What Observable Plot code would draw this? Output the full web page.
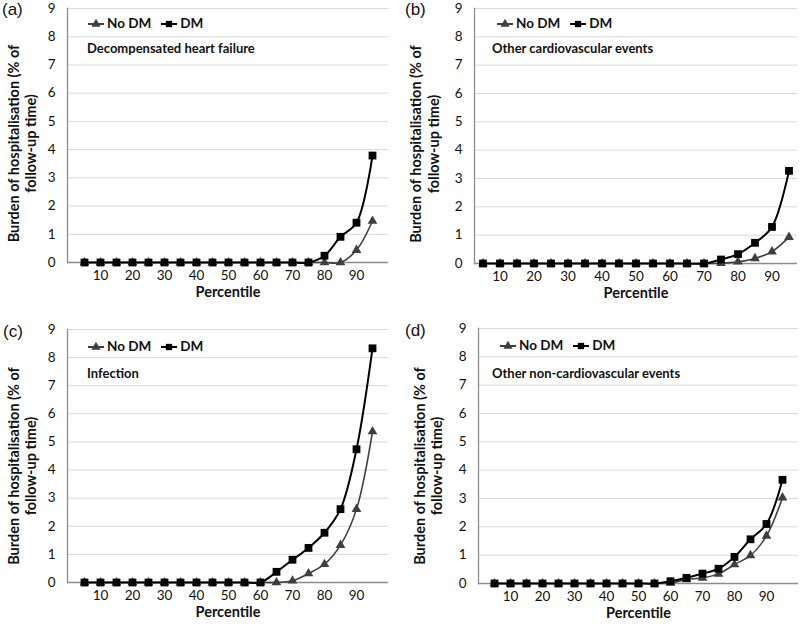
<!DOCTYPE html>
<html><head><meta charset="utf-8">
<script src="https://cdn.jsdelivr.net/npm/d3@7"></script>
<script src="https://cdn.jsdelivr.net/npm/@observablehq/plot@0.6"></script>
<style>
body{margin:0;background:#fff;font-family:Lato,sans-serif;color:#111}
#wrap{position:relative;width:800px;height:624px;overflow:hidden}
.panel{position:absolute;width:400px;height:312px}
.panel svg.plot{position:absolute;left:0;top:0}
.lab{position:absolute;font-size:17px;line-height:1;color:#111;font-family:"Liberation Sans",Arial,sans-serif}
.leg{position:absolute;font-weight:bold;font-size:13.5px;display:flex;align-items:center;white-space:nowrap;line-height:1}
.leg svg{display:block}
.note{position:absolute;font-weight:bold;font-size:13px;line-height:1;white-space:nowrap}
</style></head><body><div id="wrap"></div>
<script>
const percentiles = [5,10,15,20,25,30,35,40,45,50,55,60,65,70,75,80,85,90,95];
const xTickLabels = [10,20,30,40,50,60,70,80,90];
const yTicks = [0,1,2,3,4,5,6,7,8,9];
const seriesNames = ["No DM", "DM"];
const panelLetters = ["(a)", "(b)", "(c)", "(d)"];
const panelTitles = ["Decompensated heart failure", "Other cardiovascular events", "Infection", "Other non-cardiovascular events"];
const yTitle = "Burden of hospitalisation (% of\nfollow-up time)";
const xTitle = "Percentile";

// (a) Decompensated heart failure
const noDM_a = [0,0,0,0,0,0,0,0,0,0,0,0,0,0,0,0,0,0.44,1.47];
const dm_a   = [0,0,0,0,0,0,0,0,0,0,0,0,0,0,0,0.24,0.91,1.41,3.79];
// (b) Other cardiovascular events
const noDM_b = [0,0,0,0,0,0,0,0,0,0,0,0,0,0,0.01,0.06,0.18,0.42,0.93];
const dm_b   = [0,0,0,0,0,0,0,0,0,0,0,0,0,0,0.14,0.33,0.73,1.29,3.27];
// (c) Infection
const noDM_c = [0,0,0,0,0,0,0,0,0,0,0,0,0,0.06,0.32,0.65,1.33,2.61,5.37];
const dm_c   = [0,0,0,0,0,0,0,0,0,0,0,0,0.38,0.81,1.23,1.77,2.61,4.74,8.33];
// (d) Other non-cardiovascular events
const noDM_d = [0,0,0,0,0,0,0,0,0,0,0,0.02,0.14,0.2,0.34,0.67,0.99,1.68,3.03];
const dm_d   = [0,0,0,0,0,0,0,0,0,0,0,0.08,0.2,0.35,0.52,0.94,1.56,2.1,3.66];

const noDM = [noDM_a, noDM_b, noDM_c, noDM_d];
const dm = [dm_a, dm_b, dm_c, dm_d];

// layout per panel (page offsets and margins)
const layout = [
  {left:0,   top:0,   ml:67, mr:12, mt:8,  mb:50, tdx:-45.5, tdy:8,  lab:[2,1],  leg:[88,24],  note:[87,42]},
  {left:400, top:0,   ml:74, mr:3,  mt:8,  mb:49, tdx:-50,   tdy:8,  lab:[5,1],  leg:[97,24],  note:[92,42]},
  {left:0,   top:312, ml:67, mr:12, mt:17, mb:42, tdx:-45.5, tdy:10, lab:[3,11], leg:[88,35],  note:[87,55]},
  {left:400, top:312, ml:78, mr:2,  mt:16, mb:41, tdx:-50.5, tdy:10, lab:[5,10], leg:[100,34], note:[92,55]}
];

const wrap = document.getElementById("wrap");
const GRID = "#d9d9d9", AXIS = "#8c8c8c", NODM = "#3f3f3f", DMC = "#000";

function legendItem(symbol, color, text, gap) {
  const ns = "http://www.w3.org/2000/svg";
  const span = document.createElement("span");
  span.style.display = "flex"; span.style.alignItems = "center"; span.style.marginRight = gap + "px";
  const s = document.createElementNS(ns, "svg");
  s.setAttribute("width", 16); s.setAttribute("height", 10);
  const l = document.createElementNS(ns, "line");
  l.setAttribute("x1", 0); l.setAttribute("x2", 16); l.setAttribute("y1", 5); l.setAttribute("y2", 5);
  l.setAttribute("stroke", color); l.setAttribute("stroke-width", 2);
  s.appendChild(l);
  const p = document.createElementNS(ns, "path");
  p.setAttribute("d", d3.symbol(symbol === "square" ? d3.symbolSquare : d3.symbolTriangle, symbol === "square" ? 40 : 36)());
  p.setAttribute("transform", "translate(8,5)");
  p.setAttribute("fill", color);
  s.appendChild(p);
  span.appendChild(s);
  const t = document.createElement("span");
  t.textContent = text; t.style.marginLeft = "3px";
  span.appendChild(t);
  return span;
}

for (let i = 0; i < 4; i++) {
  const L = layout[i];
  const rows1 = percentiles.map((p, k) => ({p, v: noDM[i][k]}));
  const rows2 = percentiles.map((p, k) => ({p, v: dm[i][k]}));
  const chart = Plot.plot({
    width: 400, height: 312,
    marginLeft: L.ml, marginRight: L.mr, marginTop: L.mt, marginBottom: L.mb,
    style: {fontFamily: "Lato, sans-serif", fontSize: "13.5px", color: "#111", background: "transparent", overflow: "visible"},
    x: {type: "band", domain: percentiles, padding: 0},
    y: {domain: [0, 9]},
    marks: [
      Plot.ruleY(yTicks.filter(d => d > 0), {stroke: GRID, strokeWidth: 1}),
      Plot.ruleY([0], {stroke: AXIS, strokeWidth: 1.3}),
      Plot.frame({anchor: "left", stroke: AXIS, strokeWidth: 1.3}),
      Plot.axisY(yTicks, {tickSize: 0, tickPadding: 12, label: null, fontSize: 13.5}),
      Plot.axisX(xTickLabels, {tickSize: 0, tickPadding: 8, label: null, fontSize: 13.5}),
      Plot.text([xTitle], {frameAnchor: "bottom", dy: 34, fontWeight: "bold", fontSize: 14.5, fill: "#111"}),
      Plot.text([yTitle], {frameAnchor: "left", textAnchor: "middle", rotate: -90, dx: L.tdx, dy: L.tdy, fontWeight: "bold", fontSize: 14.5, lineHeight: 1.18, fill: "#111"}),
      Plot.line(rows1, {x: "p", y: "v", curve: "catmull-rom", stroke: NODM, strokeWidth: 1.6}),
      Plot.dot(rows1, {x: "p", y: "v", symbol: "triangle", r: 3.6, fill: NODM, stroke: "none"}),
      Plot.line(rows2, {x: "p", y: "v", curve: "catmull-rom", stroke: DMC, strokeWidth: 2}),
      Plot.dot(rows2, {x: "p", y: "v", symbol: "square", r: 4.4, fill: DMC, stroke: "none"})
    ]
  });
  chart.classList.add("plot");
  const panel = document.createElement("div");
  panel.className = "panel";
  panel.style.left = L.left + "px"; panel.style.top = L.top + "px";
  panel.appendChild(chart);

  const lab = document.createElement("div");
  lab.className = "lab"; lab.textContent = panelLetters[i];
  lab.style.left = L.lab[0] + "px"; lab.style.top = L.lab[1] + "px";
  panel.appendChild(lab);

  const leg = document.createElement("div");
  leg.className = "leg";
  leg.style.left = L.leg[0] + "px"; leg.style.top = (L.leg[1] - 7) + "px";
  leg.appendChild(legendItem("triangle", NODM, seriesNames[0], 10));
  leg.appendChild(legendItem("square", DMC, seriesNames[1], 0));
  panel.appendChild(leg);

  const note = document.createElement("div");
  note.className = "note"; note.textContent = panelTitles[i];
  note.style.left = L.note[0] + "px"; note.style.top = L.note[1] + "px";
  panel.appendChild(note);

  wrap.appendChild(panel);
}
</script></body></html>
